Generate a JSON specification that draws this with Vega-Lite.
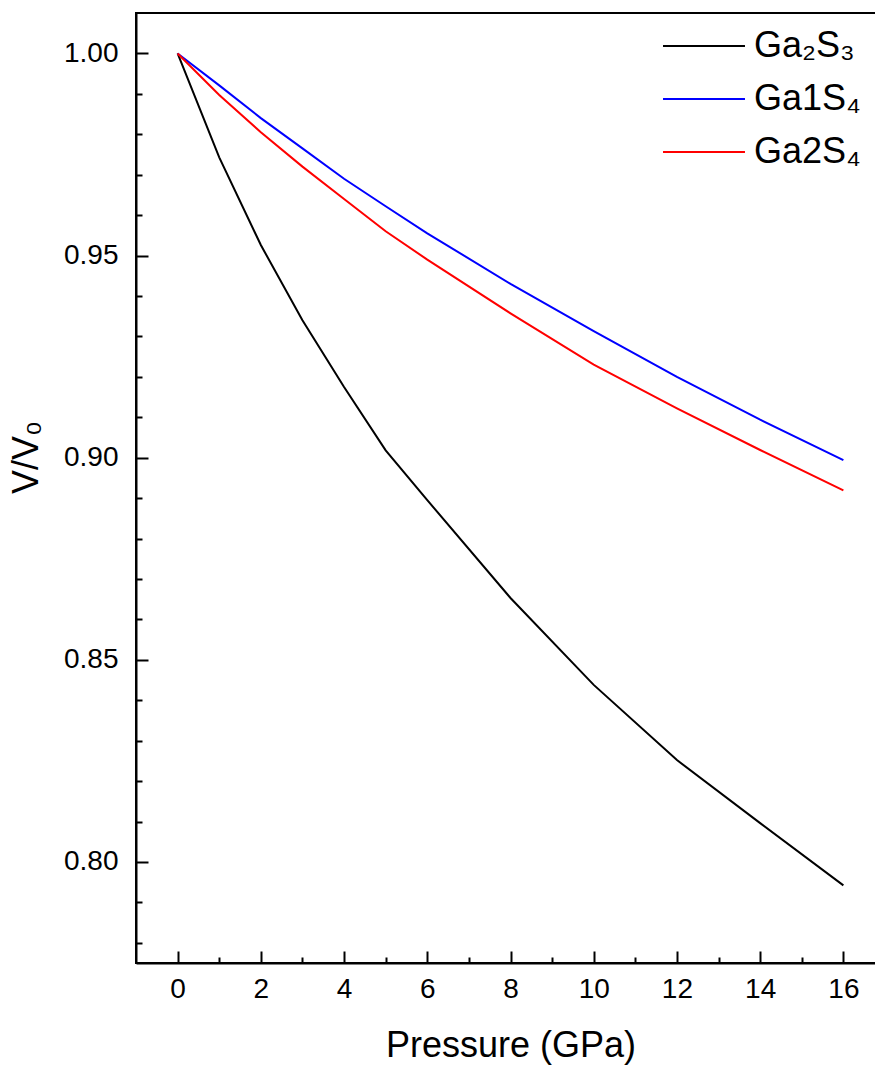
{
  "$schema": "https://vega.github.io/schema/vega-lite/v6.json",
  "width": 749,
  "height": 950,
  "autosize": "none",
  "padding": {"left": 136, "top": 13, "right": 0, "bottom": 105},
  "background": "white",
  "config": {
    "view": {"stroke": "black", "strokeWidth": 2},
    "font": "Liberation Sans",
    "axis": {
      "domainColor": "black", "domainWidth": 2, "tickColor": "black", "tickWidth": 2,
      "labelColor": "black", "titleColor": "black", "grid": false,
      "labelFont": "Liberation Sans", "titleFont": "Liberation Sans",
      "titleFontWeight": "normal", "labelFontSize": 28, "titleFontSize": 36
    }
  },
  "data": {
    "values": [
      {"P": 0, "V": 1.0, "s": "Ga₂S₃"},
      {"P": 1, "V": 0.9743, "s": "Ga₂S₃"},
      {"P": 2, "V": 0.9526, "s": "Ga₂S₃"},
      {"P": 3, "V": 0.934, "s": "Ga₂S₃"},
      {"P": 4, "V": 0.9175, "s": "Ga₂S₃"},
      {"P": 5, "V": 0.9018, "s": "Ga₂S₃"},
      {"P": 6, "V": 0.8895, "s": "Ga₂S₃"},
      {"P": 8, "V": 0.8653, "s": "Ga₂S₃"},
      {"P": 10, "V": 0.8438, "s": "Ga₂S₃"},
      {"P": 12, "V": 0.8252, "s": "Ga₂S₃"},
      {"P": 14, "V": 0.8096, "s": "Ga₂S₃"},
      {"P": 16, "V": 0.7942, "s": "Ga₂S₃"},
      {"P": 0, "V": 1.0, "s": "Ga1S₄"},
      {"P": 1, "V": 0.9921, "s": "Ga1S₄"},
      {"P": 2, "V": 0.984, "s": "Ga1S₄"},
      {"P": 3, "V": 0.9765, "s": "Ga1S₄"},
      {"P": 4, "V": 0.969, "s": "Ga1S₄"},
      {"P": 5, "V": 0.9622, "s": "Ga1S₄"},
      {"P": 6, "V": 0.9555, "s": "Ga1S₄"},
      {"P": 8, "V": 0.943, "s": "Ga1S₄"},
      {"P": 10, "V": 0.9313, "s": "Ga1S₄"},
      {"P": 12, "V": 0.92, "s": "Ga1S₄"},
      {"P": 14, "V": 0.9094, "s": "Ga1S₄"},
      {"P": 16, "V": 0.8994, "s": "Ga1S₄"},
      {"P": 0, "V": 1.0, "s": "Ga2S₄"},
      {"P": 1, "V": 0.9897, "s": "Ga2S₄"},
      {"P": 2, "V": 0.9805, "s": "Ga2S₄"},
      {"P": 3, "V": 0.972, "s": "Ga2S₄"},
      {"P": 4, "V": 0.964, "s": "Ga2S₄"},
      {"P": 5, "V": 0.956, "s": "Ga2S₄"},
      {"P": 6, "V": 0.949, "s": "Ga2S₄"},
      {"P": 8, "V": 0.9357, "s": "Ga2S₄"},
      {"P": 10, "V": 0.923, "s": "Ga2S₄"},
      {"P": 12, "V": 0.9122, "s": "Ga2S₄"},
      {"P": 14, "V": 0.9019, "s": "Ga2S₄"},
      {"P": 16, "V": 0.8919, "s": "Ga2S₄"}
    ]
  },
  "layer": [
    {
      "mark": {"type": "line", "strokeWidth": 2},
      "encoding": {
        "x": {
          "field": "P", "type": "quantitative",
          "scale": {"domain": [-1, 17], "nice": false, "zero": false},
          "axis": {
            "orient": "bottom", "values": [0, 2, 4, 6, 8, 10, 12, 14, 16],
            "tickSize": -12, "labelPadding": 24, "title": "Pressure (GPa)", "titlePadding": 25
          }
        },
        "y": {
          "field": "V", "type": "quantitative",
          "scale": {"domain": [0.775, 1.01], "nice": false, "zero": false},
          "axis": {
            "orient": "left", "values": [0.8, 0.85, 0.9, 0.95, 1.0], "format": ".2f",
            "tickSize": -12, "labelPadding": 30, "title": "V/V₀", "titlePadding": 18, "titleY": 444
          }
        },
        "color": {
          "field": "s", "type": "nominal",
          "scale": {"domain": ["Ga₂S₃", "Ga1S₄", "Ga2S₄"], "range": ["#000000", "#0000ff", "#ff0000"]},
          "sort": ["Ga₂S₃", "Ga1S₄", "Ga2S₄"],
          "legend": {
            "orient": "none", "legendX": 550, "legendY": 15, "title": null,
            "symbolType": "M-4,0H4", "symbolSize": 420, "symbolStrokeWidth": 2,
            "labelFontSize": 36, "labelFont": "Liberation Sans", "labelColor": "black",
            "labelOffset": 32, "rowPadding": 17, "padding": 0
          }
        }
      }
    },
    {
      "mark": {"type": "line", "opacity": 0},
      "encoding": {
        "x": {
          "field": "P", "type": "quantitative",
          "axis": {
            "orient": "bottom", "values": [1, 3, 5, 7, 9, 11, 13, 15],
            "tickSize": -6, "labels": false, "domain": false, "title": null
          }
        },
        "y": {
          "field": "V", "type": "quantitative",
          "axis": {
            "orient": "left",
            "values": [0.78, 0.79, 0.81, 0.82, 0.83, 0.84, 0.86, 0.87, 0.88, 0.89, 0.91, 0.92, 0.93, 0.94, 0.96, 0.97, 0.98, 0.99],
            "tickSize": -6, "labels": false, "domain": false, "title": null
          }
        },
        "detail": {"field": "s", "type": "nominal"}
      }
    }
  ],
  "resolve": {"axis": {"x": "independent", "y": "independent"}}
}
